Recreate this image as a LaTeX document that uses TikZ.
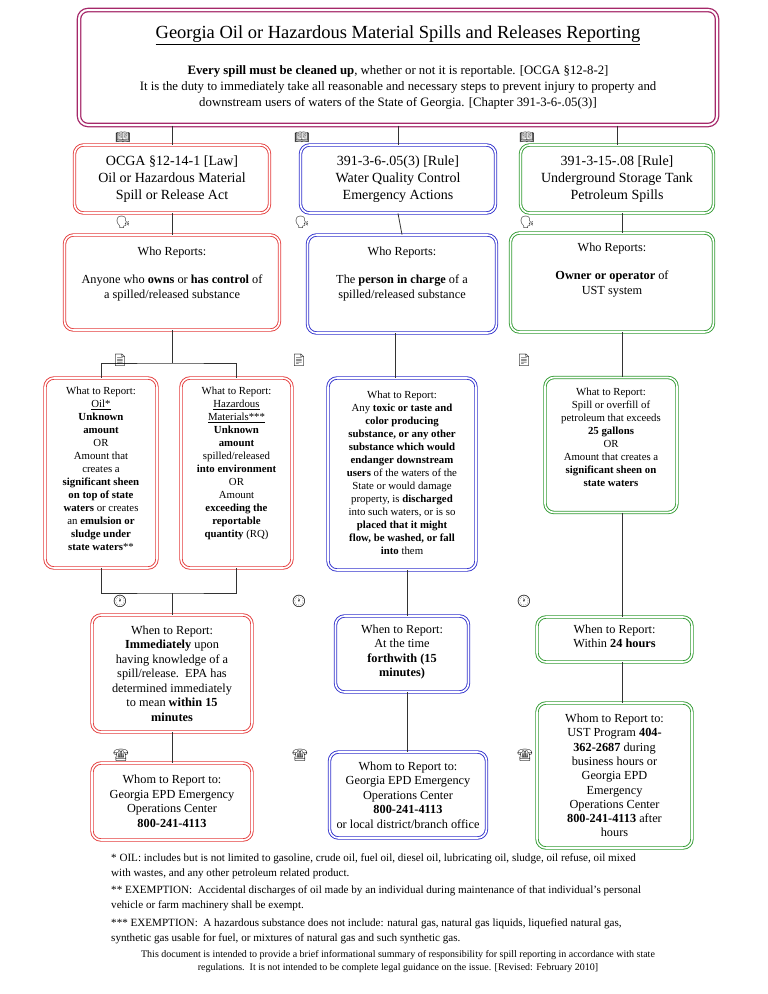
\documentclass[tikz,border=0pt]{standalone}
\usepackage{fontspec}
\setmainfont{Liberation Serif}
\newfontfamily\emo{Noto Emoji}
\definecolor{cred}{RGB}{228,60,60}
\definecolor{cblue}{RGB}{50,50,205}
\definecolor{cgreen}{RGB}{50,155,50}
\definecolor{cpurp}{RGB}{165,40,105}
\begin{document}
\begin{tikzpicture}[x=1pt,y=-1pt,
 bx/.style={draw=#1,double=white,double distance=1.6pt,line width=0.9pt,rounded corners=9pt,inner sep=0pt},
 tx/.style={align=center,inner sep=0pt},
 ln/.style={draw=black!80,line width=0.8pt},
 ic/.style={inner sep=0pt,font=\emo\fontsize{12}{12}\selectfont}]
\useasboundingbox (0,0) rectangle (768,994);
% top
\node[bx=cpurp,line width=1.3pt,double distance=2pt,minimum width=638pt,minimum height=115pt] (top) at (398,67.5) {};
\node[tx,font=\fontsize{18.5}{20}\selectfont] (title) at (398,35) {\underline{Georgia Oil or Hazardous Material Spills and Releases Reporting}};
\node[tx,font=\fontsize{12.8}{16}\selectfont] (intro) at (398,87) {\textbf{Every spill must be cleaned up}, whether or not it is reportable. [OCGA §12-8-2]\\It is the duty to immediately take all reasonable and necessary steps to prevent injury to property and\\downstream users of waters of the State of Georgia. [Chapter 391-3-6-.05(3)]};
% row 2
\node[bx=cred,minimum width=195pt,minimum height=68pt,tx,font=\fontsize{14}{17}\selectfont] (a2) at (172,179) {OCGA §12-14-1 [Law]\\Oil or Hazardous Material\\Spill or Release Act};
\node[bx=cblue,minimum width=195pt,minimum height=68pt,tx,font=\fontsize{14}{17}\selectfont] (b2) at (398,179) {391-3-6-.05(3) [Rule]\\Water Quality Control\\Emergency Actions};
\node[bx=cgreen,minimum width=193pt,minimum height=68pt,tx,font=\fontsize{14}{17}\selectfont] (c2) at (617,179) {391-3-15-.08 [Rule]\\Underground Storage Tank\\Petroleum Spills};
% row 3
\node[bx=cred,minimum width=215pt,minimum height=95pt] (a3) at (172,282.5) {};
\node[tx,anchor=north,font=\fontsize{12.3}{15}\selectfont] at (a3.north) [yshift=-12pt] {Who Reports:\\[13pt]Anyone who \textbf{owns} or \textbf{has control} of\\a spilled/released substance};
\node[bx=cblue,minimum width=189pt,minimum height=98pt] (b3) at (402,284) {};
\node[tx,anchor=north,font=\fontsize{12.3}{15}\selectfont] at (b3.north) [yshift=-12pt] {Who Reports:\\[13pt]The \textbf{person in charge} of a\\spilled/released substance};
\node[bx=cgreen,minimum width=203pt,minimum height=99pt] (c3) at (612,282.5) {};
\node[tx,anchor=north,font=\fontsize{12.3}{15}\selectfont] at (c3.north) [yshift=-10pt] {Who Reports:\\[13pt]\textbf{Owner or operator} of\\UST system};
% row 4
\node[bx=cred,minimum width=112pt,minimum height=190pt] (a4) at (101,473) {};
\node[tx,anchor=north,font=\fontsize{10.8}{13}\selectfont] at (a4.north) [yshift=-9pt] {What to Report:\\\underline{Oil*}\\\textbf{Unknown}\\\textbf{amount}\\OR\\Amount that\\creates a\\\textbf{significant sheen}\\\textbf{on top of state}\\\textbf{waters} or creates\\an \textbf{emulsion or}\\\textbf{sludge under}\\\textbf{state waters}**};
\node[bx=cred,minimum width=111pt,minimum height=190pt] (b4) at (236.5,473) {};
\node[tx,anchor=north,font=\fontsize{10.8}{13}\selectfont] at (b4.north) [yshift=-9pt] {What to Report:\\\underline{Hazardous}\\\underline{Materials***}\\\textbf{Unknown}\\\textbf{amount}\\spilled/released\\\textbf{into environment}\\OR\\Amount\\\textbf{exceeding the}\\\textbf{reportable}\\\textbf{quantity} (RQ)};
\node[bx=cblue,minimum width=148pt,minimum height=192pt] (c4) at (402,474) {};
\node[tx,anchor=north,font=\fontsize{10.8}{13}\selectfont] at (c4.north) [yshift=-13pt] {What to Report:\\Any \textbf{toxic or taste and}\\\textbf{color producing}\\\textbf{substance, or any other}\\\textbf{substance which would}\\\textbf{endanger downstream}\\\textbf{users} of the waters of the\\State or would damage\\property, is \textbf{discharged}\\into such waters, or is so\\\textbf{placed that it might}\\\textbf{flow, be washed, or fall}\\\textbf{into} them};
\node[bx=cgreen,minimum width=132pt,minimum height=135pt] (d4) at (611,445) {};
\node[tx,anchor=north,font=\fontsize{10.8}{13}\selectfont] at (d4.north) [yshift=-11pt] {What to Report:\\Spill or overfill of\\petroleum that exceeds\\\textbf{25 gallons}\\OR\\Amount that creates a\\\textbf{significant sheen on}\\\textbf{state waters}};
% row 5
\node[bx=cred,minimum width=160pt,minimum height=117pt] (a5) at (172,673.5) {};
\node[tx,anchor=north,font=\fontsize{12.3}{14.5}\selectfont] at (a5.north) [yshift=-11pt] {When to Report:\\\textbf{Immediately} upon\\having knowledge of a\\spill/release.\ \ EPA has\\determined immediately\\to mean \textbf{within 15}\\\textbf{minutes}};
\node[bx=cblue,minimum width=133pt,minimum height=76pt] (b5) at (402,654) {};
\node[tx,anchor=north,font=\fontsize{12.3}{14.5}\selectfont] at (b5.north) [yshift=-9pt] {When to Report:\\At the time\\\textbf{forthwith (15}\\\textbf{minutes)}};
\node[bx=cgreen,minimum width=155pt,minimum height=45pt] (c5) at (614.5,639.5) {};
\node[tx,anchor=north,font=\fontsize{12.3}{14.5}\selectfont] at (c5.north) [yshift=-8pt] {When to Report:\\Within \textbf{24 hours}};
% row 6
\node[bx=cred,minimum width=160pt,minimum height=77pt,tx,font=\fontsize{12.3}{14.5}\selectfont] (a6) at (172,801.5) {Whom to Report to:\\Georgia EPD Emergency\\Operations Center\\\textbf{800-241-4113}};
\node[bx=cblue,minimum width=157pt,minimum height=86pt,tx,font=\fontsize{12.3}{14.5}\selectfont] (b6) at (408,795) {Whom to Report to:\\Georgia EPD Emergency\\Operations Center\\\textbf{800-241-4113}\\or local district/branch office};
\node[bx=cgreen,minimum width=155pt,minimum height=145pt,tx,font=\fontsize{12.3}{14.3}\selectfont] (c6) at (614.5,775.5) {Whom to Report to:\\UST Program \textbf{404-}\\\textbf{362-2687} during\\business hours or\\Georgia EPD\\Emergency\\Operations Center\\\textbf{800-241-4113} after\\hours};
% connectors
\coordinate (j1) at (172,363);
\coordinate (j2) at (172,593);
\draw[ln] (top.south -| a2) -- (a2.north);
\draw[ln] (top.south -| b2) -- (b2.north);
\draw[ln] (top.south -| c2) -- (c2.north);
\draw[ln] (a2) -- (a3);
\draw[ln] (b2.south) -- (b3.north);
\draw[ln] (c2.south -| 622,0) -- (c3.north -| 622,0);
\draw[ln] (a3.south) -- (j1);
\draw[ln] (a4.north) |- (j1) -| (b4.north);
\draw[ln] (a4.south) |- (j2) -| (b4.south);
\draw[ln] (j2) -- (a5.north);
\draw[ln] (b3.south -| 395,0) -- (c4.north -| 395,0);
\draw[ln] (c3.south -| 622,0) -- (d4.north -| 622,0);
\draw[ln] (c4.south -| 407,0) -- (b5.north -| 407,0);
\draw[ln] (d4.south -| 622,0) -- (c5.north -| 622,0);
\draw[ln] (a5) -- (a6);
\draw[ln] (b5.south -| 407,0) -- (b6.north -| 407,0);
\draw[ln] (c5.south -| 622,0) -- (c6.north -| 622,0);
% icons
\foreach \x/\n in {123/1,302/2,527/3}{
 \node[ic] (bk\n) at (\x,137) {📖};
 \node[ic] (hd\n) at (\x,222) {🗣};
 \node[ic] (dc\n) at (\x-3,360) {📄};
 \node[ic] (ck\n) at (\x-3,601) {🕐};
 \node[ic] (ph\n) at (\x-2,755) {☎};
}
% footnotes
\node[anchor=north west,align=left,inner sep=0pt,font=\fontsize{11.1}{15}\selectfont] (fn) at (111,853) {* OIL: includes but is not limited to gasoline, crude oil, fuel oil, diesel oil, lubricating oil, sludge, oil refuse, oil mixed\\with wastes, and any other petroleum related product.\\[2.5pt]
{}** EXEMPTION:\ \ Accidental discharges of oil made by an individual during maintenance of that individual's personal\\vehicle or farm machinery shall be exempt.\\[2.5pt]
{}*** EXEMPTION:\ \ A hazardous substance does not include: natural gas, natural gas liquids, liquefied natural gas,\\synthetic gas usable for fuel, or mixtures of natural gas and such synthetic gas.};
\node[tx,font=\fontsize{10}{13}\selectfont] (note) at (398,962) {This document is intended to provide a brief informational summary of responsibility for spill reporting in accordance with state\\regulations.\ \ It is not intended to be complete legal guidance on the issue. [Revised: February 2010]};
\end{tikzpicture}
\end{document}
